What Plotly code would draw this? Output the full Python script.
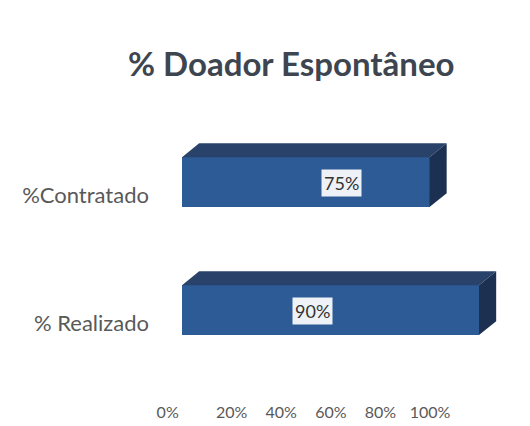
import plotly.graph_objects as go

categories = ["% Realizado", "%Contratado"]
values = [90, 75]
value_labels = ["90%", "75%"]
tick_values = [0, 20, 40, 60, 80, 100]
tick_labels = ["0%", "20%", "40%", "60%", "80%", "100%"]
title_text = "% Doador Espontâneo"

# styling / geometry (in axis units)
pos = list(range(len(categories)))
bar_w = 0.39
bar_shift = 0.10      # front face raised above the category tick
dx, dy = 5.2, 0.109   # 3D depth
front_col = "#2d5b96"
top_col = "#29426a"
side_col = "#1c3152"

fig = go.Figure()

# front faces
fig.add_trace(go.Bar(
    y=pos, x=values, orientation="h", width=bar_w,
    offset=bar_shift - bar_w / 2,
    marker=dict(color=front_col, line=dict(width=0)),
    hoverinfo="skip", showlegend=False,
))

for p, v in zip(pos, values):
    bot = p + bar_shift - bar_w / 2
    top = p + bar_shift + bar_w / 2
    # top face
    fig.add_trace(go.Scatter(
        x=[0, v, v + dx, dx, 0], y=[top, top, top + dy, top + dy, top],
        fill="toself", fillcolor=top_col, mode="lines",
        line=dict(width=0, color=top_col), hoverinfo="skip", showlegend=False,
    ))
    # side face
    fig.add_trace(go.Scatter(
        x=[v, v + dx, v + dx, v, v], y=[top, top + dy, bot + dy, bot, top],
        fill="toself", fillcolor=side_col, mode="lines",
        line=dict(width=0, color=side_col), hoverinfo="skip", showlegend=False,
    ))

# value labels
label_x = [39.5, 48.2]
for p, lx, txt in zip(pos, label_x, value_labels):
    fig.add_annotation(
        x=lx, y=p + 0.09, xref="x", yref="y", text=txt, showarrow=False,
        font=dict(family="Lato", size=18, color="#333333"),
        bgcolor="#eef2f7", borderpad=2,
    )

# invisible trace on xaxis2 for tick labels
fig.add_trace(go.Scatter(x=[0, 100], y=[0, 0], xaxis="x2", mode="markers",
                         marker=dict(opacity=0), hoverinfo="skip", showlegend=False))

# the first label sits a little left of its tick in the reference
tick_text_shown = [tick_labels[0] + "&nbsp;" * 7] + tick_labels[1:]

fig.update_layout(
    width=530, height=426,
    margin=dict(l=150, r=0, t=0, b=0),
    paper_bgcolor="white", plot_bgcolor="white",
    font=dict(family="Lato", color="#595959"),
    annotations=list(fig.layout.annotations) + [dict(
        text="<b>" + title_text + "</b>", x=(291 - 150) / 380, y=1 - 63 / 426,
        xref="paper", yref="paper", xanchor="center", yanchor="middle",
        showarrow=False, font=dict(family="Lato", size=33, color="#3d4650"),
    )],
    xaxis=dict(range=[-9.7, 105.45], showgrid=False, zeroline=False,
               showticklabels=False, showline=False, fixedrange=True,
               automargin=False),
    xaxis2=dict(range=[-12.9, 140.3], domain=[0, 1], anchor="free", position=0.058,
                overlaying="x", tickvals=tick_values, ticktext=tick_text_shown,
                tickangle=0, automargin=False,
                showgrid=False, zeroline=False, showline=False, ticks="",
                tickfont=dict(family="Lato", size=16, color="#595959")),
    yaxis=dict(range=[-0.805, 2.523], tickvals=pos, ticktext=categories,
               showgrid=False, zeroline=False, showline=False, ticks="",
               automargin=False,
               tickfont=dict(family="Lato", size=22, color="#595959")),
    bargap=0,
)

fig.write_html("out.html", config={"displayModeBar": False},
               post_script="document.body.style.margin='0';")
